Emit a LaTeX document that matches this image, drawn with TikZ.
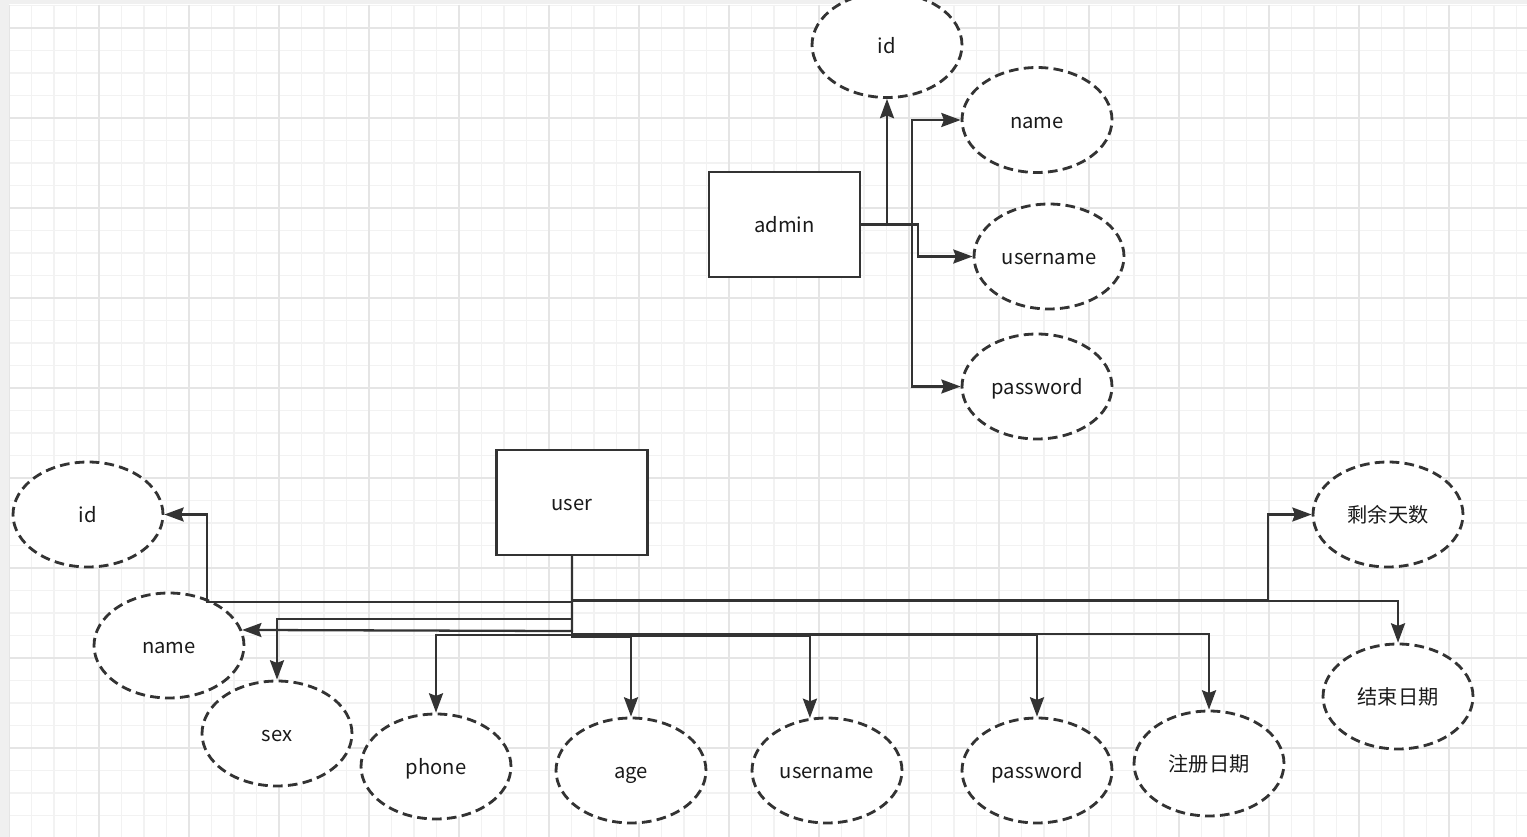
\documentclass[tikz,border=0pt]{standalone}
\usepackage{fontspec}
\setmainfont{Noto Sans CJK SC}
\usepackage{tikz}
\usetikzlibrary{shapes.geometric,arrows.meta}
\usepackage{xcolor}
\definecolor{trazo}{HTML}{333333}
\definecolor{texto}{HTML}{1A1A1A}
\definecolor{rejilla}{HTML}{F2F2F2}
\definecolor{rejillab}{HTML}{E5E5E5}
\definecolor{marco}{HTML}{F0F0F0}

\begin{document}
\begin{tikzpicture}[x=0.02cm,y=-0.02cm,
    entity/.style={draw=trazo,line width=1.2pt,fill=white,minimum width=3.02cm,minimum height=2.1cm,inner sep=0pt,text=texto,text height=9.5pt,text depth=0pt,font=\fontsize{11.5}{13}\selectfont},
    attr/.style={ellipse,draw=trazo,line width=1.6pt,dash pattern=on 5.5pt off 3pt,fill=white,minimum width=3.0cm,minimum height=2.1cm,inner sep=0pt,text=texto,text height=9.5pt,text depth=0pt,font=\fontsize{11.5}{13}\selectfont},
    conn/.style={-{Stealth[length=11pt,width=8pt,inset=1.5pt]},line width=1.3pt,trazo}]
      \useasboundingbox (0,0) rectangle (1527,837);
      \fill[white] (0,0) rectangle (1527,837);
      % grid
      \foreach \i in {0,...,67} \draw[rejilla,line width=0.6pt] ({9+22.5*\i},5) -- ({9+22.5*\i},837);
      \foreach \j in {0,...,37} \draw[rejilla,line width=0.6pt] (9,{5.5+22.5*\j}) -- (1527,{5.5+22.5*\j});
      \foreach \i in {0,...,16} \draw[rejillab,line width=0.6pt] ({9+90*\i},5) -- ({9+90*\i},837);
      \foreach \j in {0,...,9} \draw[rejillab,line width=0.6pt] (9,{28+90*\j}) -- (1527,{28+90*\j});
      \fill[marco] (0,0) rectangle (9,837);
      \fill[marco] (0,0) rectangle (1527,4);

      % admin
      \node[entity] (admin) at (784.5,224.5) {admin};
      \node[attr] (aid) at (887,45) {id};
      \node[attr] (aname) at (1037,120) {name};
      \node[attr] (auser) at (1049,256.5) {username};
      \node[attr] (apass) at (1037,386.5) {password};
      \draw[conn] (admin.east) -| (aid.south);
      \draw[conn] (admin.east) -- ++(51,0) |- (aname.west);
      \draw[conn] (admin.east) -- ++(57,0) |- (auser.west);
      \draw[conn] (admin.east) -- ++(51,0) |- (apass.west);

      % user
      \node[entity] (user) at (572,502.5) {user};
      \node[attr] (uid) at (88,514.5) {id};
      \node[attr] (uname) at (169,645.5) {name};
      \node[attr] (usex) at (277,733.5) {sex};
      \node[attr] (uphone) at (436,766.5) {phone};
      \node[attr] (uage) at (631,770.5) {age};
      \node[attr] (uuser) at (827,770.5) {username};
      \node[attr] (upass) at (1037,770.5) {password};
      \node[attr] (ureg) at (1209,763.5) {注册日期};
      \node[attr] (uleft) at (1388,514.5) {剩余天数};
      \node[attr] (uend) at (1398,696.5) {结束日期};
      \draw[conn] (user.south) -- ++(0,46) -- ++(-365,0) |- (uid.east);
      \draw[conn] (user.south) -- ++(0,75) -- (uname.12.6);
      \draw[conn] (user.south) -- ++(0,63) -| (usex.north);
      \draw[conn] (user.south) -- ++(0,79) -| (uphone.north);
      \draw[conn] (user.south) -- ++(0,81) -| (uage.north);
      \draw[conn] (user.south) -- ++(0,80) -| (uuser.108.4);
      \draw[conn] (user.south) -- ++(0,79) -| (upass.north);
      \draw[conn] (user.south) -- ++(0,78) -| (ureg.north);
      \draw[conn] (user.south) -- ++(0,44) -- ++(696,0) |- (uleft.west);
      \draw[conn] (user.south) -- ++(0,45) -| (uend.north);
    \end{tikzpicture}
\end{document}
